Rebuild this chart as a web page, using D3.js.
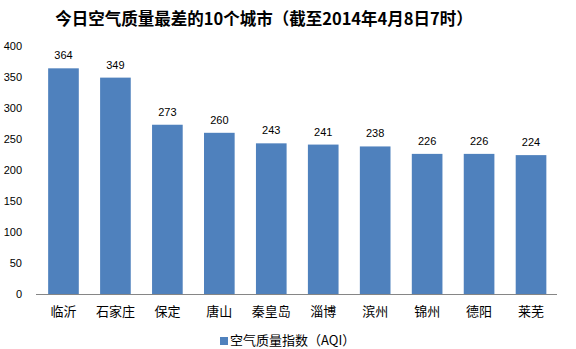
<!DOCTYPE html>
<html><head><meta charset="utf-8">
<script src="https://cdn.jsdelivr.net/npm/d3@7"></script>
<style>body{margin:0;background:#fff;}svg{display:block;}</style>
</head><body>
<svg id="c" width="576" height="349"></svg>
<script>
const titleText = "今日空气质量最差的10个城市（截至2014年4月8日7时）";
const categories = ["临沂","石家庄","保定","唐山","秦皇岛","淄博","滨州","锦州","德阳","莱芜"];
const values = [364,349,273,260,243,241,238,226,226,224];
const yTicks = [0,50,100,150,200,250,300,350,400];
const seriesName = "空气质量指数（AQI）";

const svg = d3.select("#c");
const font = "'Noto Sans CJK SC','Noto Sans',sans-serif";
const x = d3.scaleBand().domain(categories).range([37.5, 557]).paddingInner(0.41).paddingOuter(0.205);
const y = d3.scaleLinear().domain([0,400]).range([294,46]);

svg.append("text").attr("x",264).attr("y",25).attr("text-anchor","middle")
  .attr("font-family",font).attr("font-weight","bold").attr("font-size",16.5).attr("fill","#000").text(titleText);

const ya = svg.append("g").attr("transform","translate(22,0)")
  .call(d3.axisLeft(y).tickValues(yTicks).tickSize(0).tickPadding(0));
ya.select(".domain").remove();
ya.selectAll("text").attr("font-family","'Liberation Sans',Arial,sans-serif").attr("font-size",11).attr("fill","#000");

svg.selectAll("rect.bar").data(values).join("rect").attr("class","bar")
  .attr("x",(d,i)=>x(categories[i])).attr("width",x.bandwidth())
  .attr("y",d=>y(d)).attr("height",d=>y(0)-y(d)).attr("fill","#4F81BD");

svg.selectAll("text.val").data(values).join("text").attr("class","val")
  .attr("x",(d,i)=>x(categories[i])+x.bandwidth()/2).attr("y",d=>y(d)-9)
  .attr("text-anchor","middle").attr("font-family","'Liberation Sans',Arial,sans-serif")
  .attr("font-size",11).attr("fill","#000").text(d=>d);

const xa = svg.append("g").attr("transform","translate(0,294)")
  .call(d3.axisBottom(x).tickSize(0).tickPadding(0));
xa.select(".domain").attr("d","M36,0.5H557").attr("stroke","#868686");
xa.selectAll("text").attr("y",22).attr("dy",null).attr("font-family",font).attr("font-size",13).attr("fill","#000");

const lg = svg.append("g");
lg.append("rect").attr("x",220).attr("y",337).attr("width",8).attr("height",8).attr("fill","#4F81BD");
lg.append("text").attr("x",230).attr("y",344.5).attr("font-family",font).attr("font-size",13).attr("fill","#000").text(seriesName);
</script>
</body></html>
